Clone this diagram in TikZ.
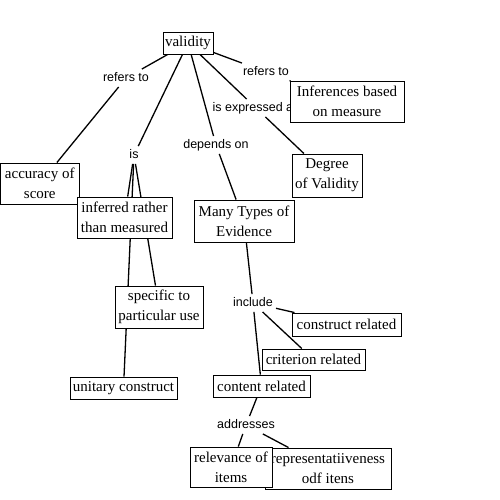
\documentclass[tikz,border=0pt]{standalone}
\usepackage{fontspec}
\setmainfont{Liberation Serif}
\newfontfamily\lsans{Liberation Sans}
\usetikzlibrary{backgrounds}
\tikzset{
  box/.style={draw=black, line width=0.9pt, fill=white, inner sep=0pt, align=center,
    font=\fontsize{15}{20}\selectfont},
  lbl/.style={inner sep=3pt, font=\lsans\fontsize{12.5}{15}\selectfont, text height=9pt, text depth=2.5pt},
  conn/.style={draw=black, line width=1.3pt}
}
\begin{document}
\begin{tikzpicture}[x=1pt,y=-1pt]
\useasboundingbox (0,0) rectangle (500,500);
% linking phrases
\node[lbl] (ref1) at (126,78) {refers to};
\node[lbl] (ref2) at (266,72) {refers to};
\node[lbl] (expr) at (256,108) {is expressed as};
\node[lbl] (is) at (134,155) {is};
\node[lbl] (dep) at (216,145) {depends on};
\node[lbl] (incl) at (253,303) {include};
\node[lbl] (addr) at (246,425) {addresses};
% concepts
\node[box, minimum width=50pt, minimum height=22pt] (val) at (188,43) {validity};
\node[box, minimum width=114pt, minimum height=41pt] (inf) at (347,101.5) {Inferences based\\on measure};
\node[box, minimum width=78.5pt, minimum height=41pt] (acc) at (39.75,183.5) {accuracy of\\score};
\node[box, minimum width=70pt, minimum height=43pt] (deg) at (327,175.5) {Degree\\of Validity};
\node[box, minimum width=100pt, minimum height=42pt] (many) at (244,221) {Many Types of\\Evidence};
\node[box, minimum width=95pt, minimum height=41pt] (infr) at (124.5,217.5) {inferred rather\\than measured};
\node[box, minimum width=88pt, minimum height=42pt] (spec) at (159,307) {specific to\\particular use};
\node[box, minimum width=107pt, minimum height=22pt] (unit) at (123.5,388) {unitary construct};
\node[box, minimum width=109pt, minimum height=23pt] (cons) at (346.5,324.5) {construct related};
\node[box, minimum width=103pt, minimum height=21pt] (crit) at (313.5,359.5) {criterion related};
\node[box, minimum width=97pt, minimum height=22pt] (cont) at (261.5,386) {content related};
\node[box, minimum width=126pt, minimum height=41pt] (rep) at (328,468.5) {representatiiveness\\odf itens};
\node[box, minimum width=82pt, minimum height=40pt] (rel) at (231,467) {relevance of\\items};
\begin{pgfonlayer}{background}
\fill[white] (0,0) rectangle (500,500);
\draw[conn] (val) -- (ref1);
\draw[conn] (ref1) -- (acc);
\draw[conn] (val) -- (ref2);
\draw[conn] (ref2) -- (inf);
\draw[conn] (val) -- (expr);
\draw[conn] (expr) -- (deg);
\draw[conn] (val) -- (is);
\draw[conn] (is) -- (infr);
\draw[conn] (is) -- (spec);
\draw[conn] (is) -- (unit);
\draw[conn] (val) -- (dep);
\draw[conn] (dep) -- (many);
\draw[conn] (many) -- (incl);
\draw[conn] (incl) -- (cons);
\draw[conn] (incl) -- (crit);
\draw[conn] (incl) -- (cont);
\draw[conn] (cont) -- (addr);
\draw[conn] (addr) -- (rel);
\draw[conn] (addr) -- (rep);
\end{pgfonlayer}
\end{tikzpicture}
\end{document}
